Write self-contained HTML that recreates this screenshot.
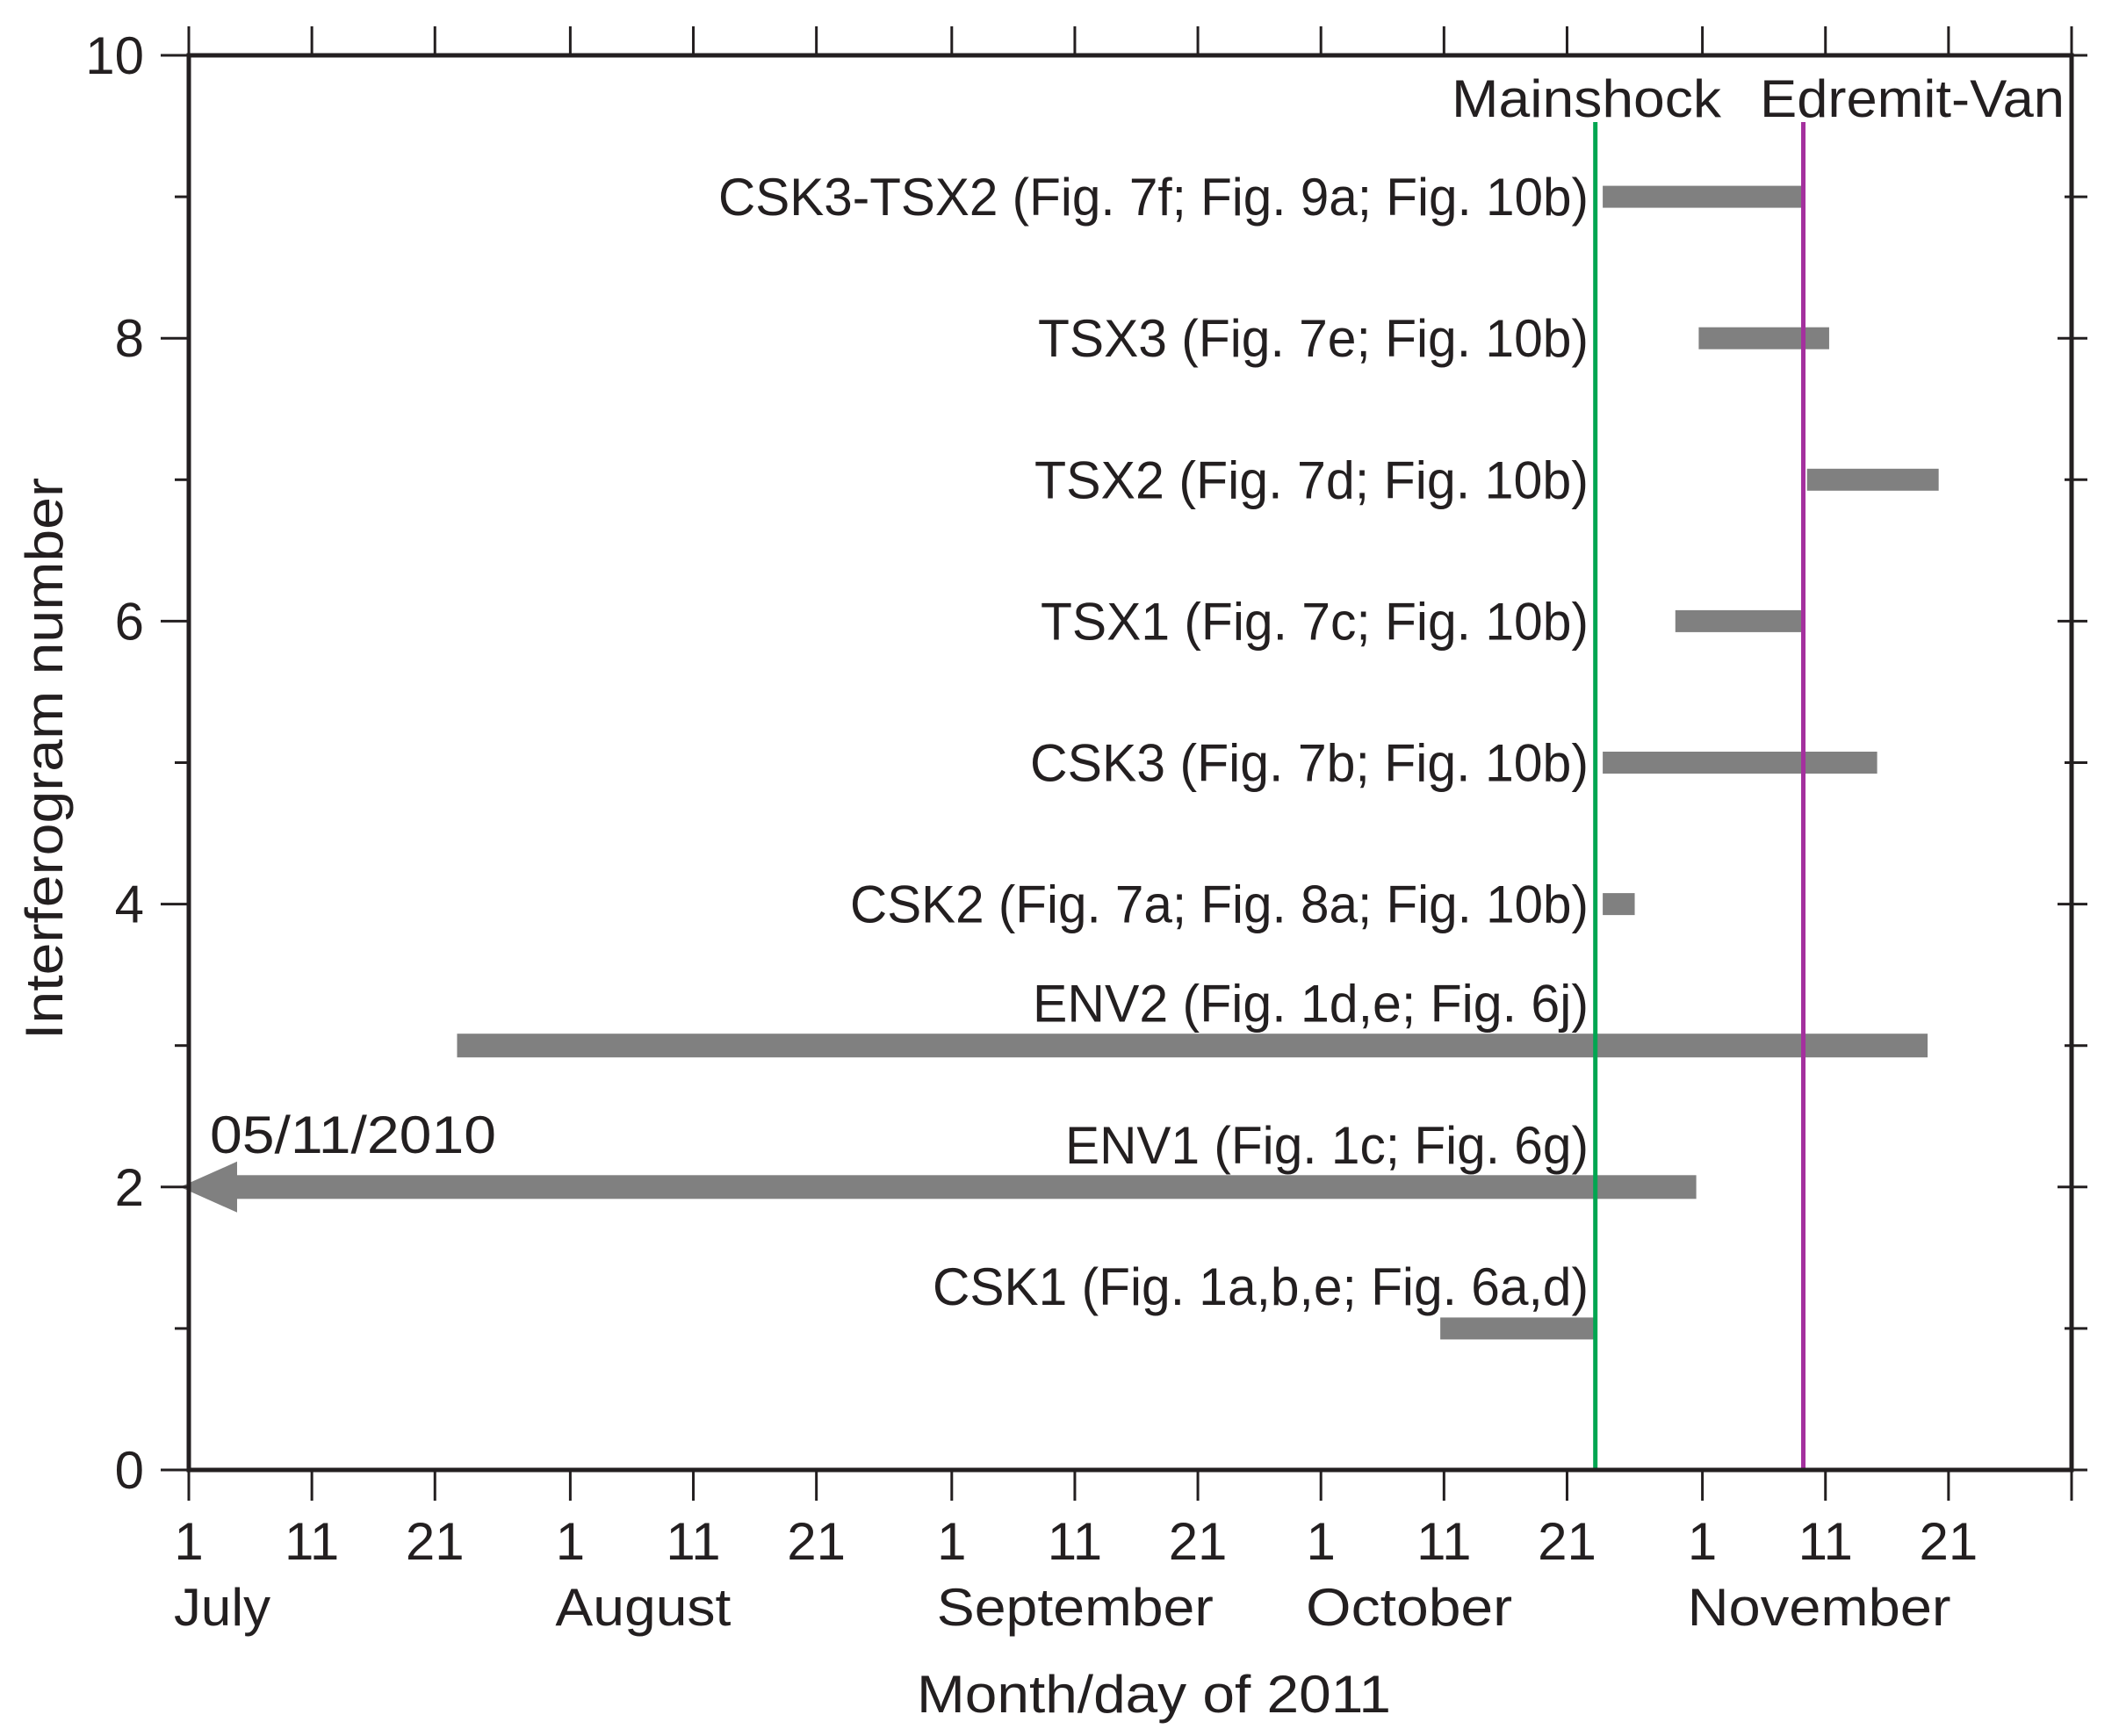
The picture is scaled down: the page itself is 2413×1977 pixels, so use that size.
<!DOCTYPE html>
<html><head><meta charset="utf-8"><style>
html,body{margin:0;padding:0;background:#fff;}
svg{display:block;font-family:"Liberation Sans",sans-serif;}
</style></head><body>
<svg id="chart" width="2413" height="1977" viewBox="0 0 2413 1977" xmlns="http://www.w3.org/2000/svg"></svg>
<script>
// Data (days since 2011-07-01)
const barLabels = ["CSK1 (Fig. 1a,b,e; Fig. 6a,d)","ENV1 (Fig. 1c; Fig. 6g)","ENV2 (Fig. 1d,e; Fig. 6j)","CSK2 (Fig. 7a; Fig. 8a; Fig. 10b)","CSK3 (Fig. 7b; Fig. 10b)","TSX1 (Fig. 7c; Fig. 10b)","TSX2 (Fig. 7d; Fig. 10b)","TSX3 (Fig. 7e; Fig. 10b)","CSK3-TSX2 (Fig. 7f; Fig. 9a; Fig. 10b)"];
const barNumbers = [1,2,3,4,5,6,7,8,9];
const barStarts = [101.7,-234,21.8,114.9,114.9,120.8,131.5,122.7,114.9];
const barEnds = [114.3,122.5,141.3,117.5,137.2,131.3,142.2,133.3,131.3];
const yTicks = [0,2,4,6,8,10];
const yMinor = [1,3,5,7,9];
const xTickDays = [0,10,20,31,41,51,62,72,82,92,102,112,123,133,143,153];
const xTickLabels = ["1","11","21","1","11","21","1","11","21","1","11","21","1","11","21",""];
const monthNames = ["July","August","September","October","November"];
const monthDays = [0,31,62,92,123];
const eventNames = ["Mainshock","Edremit-Van"];
const eventDays = [114.3,131.2];
const eventColors = ["#00a651","#a4309e"];

const L=215,R=2359,T=63,B=1674,DMAX=153,YMAX=10;
const xs=d=>L+d*(R-L)/DMAX;
const ys=v=>B-v*(B-T)/YMAX;
const svg=document.getElementById('chart');
const NS="http://www.w3.org/2000/svg";
function mk(tag,attrs,parent){const e=document.createElementNS(NS,tag);for(const k in attrs)e.setAttribute(k,attrs[k]);(parent||svg).appendChild(e);return e;}
function txt(s,attrs){const e=mk('text',attrs);e.textContent=s;return e;}

// label widths (px) keep text matching condensed font
const labelWidths=[747,596,633,841,636,624,631,627,991];
const labelYOff=[-48,-48,-48,0,0,0,0,0,0];

// bars
barNumbers.forEach((n,i)=>{
  const x1=Math.max(xs(barStarts[i]),xs(0)+55), x2=xs(barEnds[i]);
  const h=(n===2||n===3)?27:25;
  const r=mk('rect',{x:x1,y:ys(n)-h/2,width:x2-x1,height:h,fill:'#808080'});
  
  
  if(barStarts[i]<0){
    const p=mk('polygon',{points:`${xs(0)-10},${ys(n)} ${xs(0)+55},${ys(n)-29} ${xs(0)+55},${ys(n)+29}`,fill:'#808080'});
    
    
  }
  const t=txt(barLabels[i],{x:1809,y:ys(n)+labelYOff[i]+21,'text-anchor':'end','font-size':60,fill:'#231f20',textLength:labelWidths[i],lengthAdjust:'spacingAndGlyphs'});
  
  
});
const dt=txt("05/11/2010",{x:239,y:1313,'font-size':60,fill:'#231f20',textLength:326,lengthAdjust:'spacingAndGlyphs'});



// event lines
eventNames.forEach((nm,i)=>{
  const x=xs(eventDays[i]);
  const l=mk('line',{x1:x,x2:x,y1:139,y2:B,stroke:eventColors[i],'stroke-width':5});
  
  
});
const m1=txt("Mainshock",{x:1653,y:133,'font-size':60,fill:'#231f20',textLength:307,lengthAdjust:'spacingAndGlyphs'});


const m2=txt("Edremit-Van",{x:2004,y:133,'font-size':60,fill:'#231f20',textLength:347,lengthAdjust:'spacingAndGlyphs'});



// frame
const fr=mk('rect',{x:L,y:T,width:R-L,height:B-T,fill:'none',stroke:'#231f20','stroke-width':5});



// y ticks
yTicks.forEach(v=>{
  const y=ys(v);
  mk('line',{x1:L-32,x2:L,y1:y,y2:y,stroke:'#231f20','stroke-width':3});
  mk('line',{x1:R-16,x2:R+18,y1:y,y2:y,stroke:'#231f20','stroke-width':3});
  const t=txt(String(v),{x:164,y:y+21,'text-anchor':'end','font-size':60,fill:'#231f20'});
  
  
});
yMinor.forEach(v=>{
  const y=ys(v);
  mk('line',{x1:L-16,x2:L,y1:y,y2:y,stroke:'#231f20','stroke-width':3});
  mk('line',{x1:R-8,x2:R+18,y1:y,y2:y,stroke:'#231f20','stroke-width':3});
});
// x ticks
xTickDays.forEach((d,i)=>{
  const x=xs(d);
  mk('line',{x1:x,x2:x,y1:B,y2:B+35,stroke:'#231f20','stroke-width':3});
  mk('line',{x1:x,x2:x,y1:T-33,y2:T,stroke:'#231f20','stroke-width':3});
  if(xTickLabels[i]){
    const t=txt(xTickLabels[i],{x:x,y:1776,'text-anchor':'middle','font-size':60,fill:'#231f20'});
    
    
  }
});
monthNames.forEach((m,i)=>{
  const t=txt(m,{x:xs(monthDays[i])-17,y:1851,'font-size':60,fill:'#231f20',textLength:[110,200,315,235,300][i],lengthAdjust:'spacingAndGlyphs'});
  
  
});
const xt=txt("Month/day of 2011",{x:1314,y:1950,'text-anchor':'middle','font-size':60,fill:'#231f20',textLength:540,lengthAdjust:'spacingAndGlyphs'});


const yt=txt("Interferogram number",{x:0,y:0,'text-anchor':'middle','font-size':60,fill:'#231f20',textLength:640,lengthAdjust:'spacingAndGlyphs',transform:'translate(71,864) rotate(-90)'});


</script>
</body></html>
